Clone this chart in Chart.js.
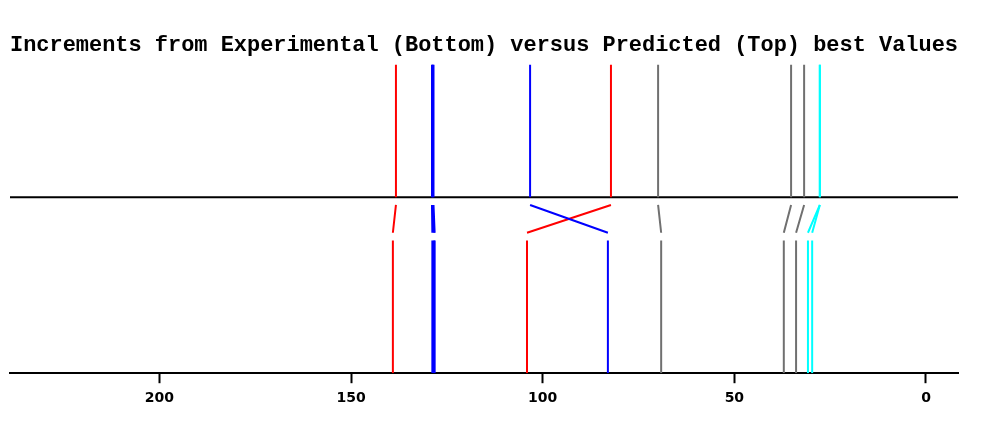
<!DOCTYPE html>
<html>
<head>
<meta charset="utf-8">
<script src="https://cdn.jsdelivr.net/npm/chart.js@4/dist/chart.umd.min.js"></script>
<style>
  html, body { margin: 0; padding: 0; background: #fff; }
  #wrap { width: 999px; height: 426px; position: relative; }
</style>
</head>
<body>
<div id="wrap"><canvas id="chart-area"></canvas></div>
<script>
// predicted (top) and experimental (bottom) values, matched pairwise
var predicted    = [138.3, 128.9, 128.7, 128.5, 103.3, 82.2, 69.9, 35.2, 31.8, 27.7, 27.7];
var experimental = [139.1, 128.8, 128.4, 128.2, 83.0, 104.1, 69.1, 37.1, 33.9, 30.8, 29.7];
var lineColors   = ['red', 'blue', 'blue', 'blue', 'blue', 'red', 'gray', 'gray', 'gray', 'cyan', 'cyan'];
var tickValues   = [200, 150, 100, 50, 0];

var palette = {
    red: '#FF0000',
    blue: '#0000FF',
    gray: '#707070',
    cyan: '#00FFFF',
    black: '#000000'
};

// vertical levels (y scale runs 0..100)
var TOP = 100, MID = 57, LINK_TOP = 54.5, LINK_BOTTOM = 45.5, LOW_TOP = 43, BOTTOM = 0;
var X_MIN = -8.35, X_MAX = 239;

var datasets = [];
predicted.forEach(function(p, i) {
    var e = experimental[i];
    datasets.push({
        data: [
            {x: p, y: TOP}, {x: p, y: MID}, {x: p, y: null},
            {x: p, y: LINK_TOP}, {x: e, y: LINK_BOTTOM}, {x: e, y: null},
            {x: e, y: LOW_TOP}, {x: e, y: BOTTOM}
        ],
        borderColor: palette[lineColors[i]],
        borderWidth: 2
    });
});
// centre divider
datasets.push({
    data: [{x: X_MIN, y: MID}, {x: X_MAX, y: MID}],
    borderColor: palette.black,
    borderWidth: 2
});

var config = {
    type: 'scatter',
    data: { datasets: datasets },
    options: {
        responsive: true,
        maintainAspectRatio: false,
        animation: false,
        devicePixelRatio: 1,
        showLine: true,
        spanGaps: false,
        elements: {
            point: { radius: 0, hoverRadius: 0 },
            line: { tension: 0, borderCapStyle: 'butt' }
        },
        layout: {
            padding: { left: 10, right: 41, top: 0, bottom: 12 }
        },
        plugins: {
            legend: { display: false },
            tooltip: { enabled: false },
            title: {
                display: true,
                text: 'Increments from Experimental (Bottom) versus Predicted (Top) best Values',
                align: 'start',
                color: '#000',
                font: { family: 'Liberation Mono', weight: 'bold', size: 22.1 },
                padding: { top: 32, bottom: 6 }
            }
        },
        scales: {
            x: {
                type: 'linear',
                reverse: true,
                min: X_MIN,
                max: X_MAX,
                afterBuildTicks: function(axis) {
                    axis.ticks = tickValues.map(function(v) { return {value: v}; });
                },
                border: { display: true, color: '#000', width: 2 },
                grid: {
                    drawOnChartArea: false,
                    drawTicks: true,
                    tickLength: 10,
                    tickWidth: 2,
                    tickColor: '#000'
                },
                ticks: {
                    color: '#000',
                    padding: 7,
                    maxRotation: 0,
                    font: { family: 'DejaVu Sans', weight: 'bold', size: 14 }
                }
            },
            y: {
                type: 'linear',
                display: false,
                min: 0,
                max: 100
            }
        }
    }
};

window.onload = function() {
    var ctx = document.getElementById('chart-area').getContext('2d');
    window.incChart = new Chart(ctx, config);
};
</script>
</body>
</html>
